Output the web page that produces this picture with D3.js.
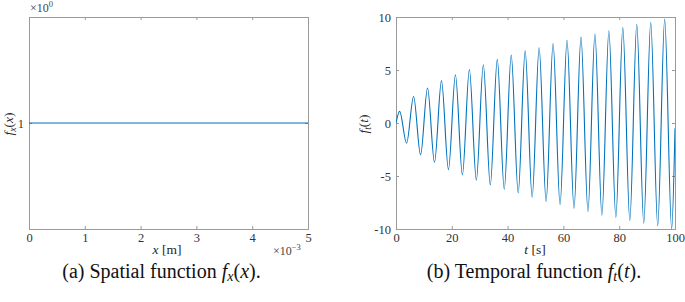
<!DOCTYPE html>
<html>
<head>
<meta charset="utf-8">
<script src="https://cdn.jsdelivr.net/npm/d3@7"></script>
<style>
  body { margin: 0; background: #fff; }
  svg text { font-family: "Liberation Serif", serif; fill: #262626; }
  .axis path, .axis line { stroke: #9a9a9a; }
  .axis text { font-size: 12.5px; fill: #333; font-family: "Liberation Serif", serif; }
</style>
</head>
<body>
<div id="chart"></div>
<script>
// spatial function (x in 1e-3 m, value in 1e0)
var xsSpatial = [0, 5];
var fxValues = [1, 1];
var xTicksA = [0, 1, 2, 3, 4, 5];
var yTicksA = [1];

// temporal function, extrema
var tPoints = [0, 1.3, 3.8, 6.3, 8.8, 11.3, 13.8, 16.3, 18.8, 21.3, 23.8, 26.3, 28.8, 31.3, 33.8,
  36.3, 38.8, 41.3, 43.8, 46.3, 48.8, 51.3, 53.8, 56.3, 58.8, 61.3, 63.8, 66.3, 68.8, 71.3,
  73.8, 76.3, 78.8, 81.3, 83.8, 86.3, 88.8, 91.3, 93.8, 96.3, 98.8, 100];
var ftValues = [0, 1.1, -1.9, 2.5, -3.0, 3.3, -3.7, 4.0, -4.4, 4.55, -4.9, 5.05, -5.4, 5.5, -5.85,
  6.0, -6.25, 6.4, -6.6, 6.8, -7.0, 7.1, -7.4, 7.5, -7.7, 7.8, -8.05, 8.1, -8.35, 8.4,
  -8.7, 8.7, -8.9, 9.0, -9.2, 9.3, -9.45, 9.5, -9.7, 9.8, -10.0, -0.5];
var xTicksB = [0, 20, 40, 60, 80, 100];
var yTicksB = [-10, -5, 0, 5, 10];

var W = 685, H = 302;
var lineColor = "#0072BD";

var svg = d3.select("#chart").append("svg")
  .attr("width", W)
  .attr("height", H);

// draws a matlab-ish boxed axes with inward ticks
function panel(left, right, top, bottom, xdom, ydom, xt, yt, id) {
  var x = d3.scaleLinear().domain(xdom).range([left, right]);
  var y = d3.scaleLinear().domain(ydom).range([bottom, top]);
  var fmt = function(d) { return String(d); };

  svg.append("g").attr("class", "axis")
    .attr("transform", "translate(0," + bottom + ")")
    .call(d3.axisBottom(x).tickValues(xt).tickSize(-3).tickPadding(4).tickFormat(fmt));
  svg.append("g").attr("class", "axis")
    .attr("transform", "translate(0," + top + ")")
    .call(d3.axisTop(x).tickValues(xt).tickSize(-3).tickFormat(""));
  svg.append("g").attr("class", "axis")
    .attr("transform", "translate(" + left + ",0)")
    .call(d3.axisLeft(y).tickValues(yt).tickSize(-3).tickPadding(5).tickFormat(fmt));
  svg.append("g").attr("class", "axis")
    .attr("transform", "translate(" + right + ",0)")
    .call(d3.axisRight(y).tickValues(yt).tickSize(-3).tickFormat(""));

  svg.selectAll(".axis").attr("font-family", null).attr("font-size", null);

  svg.append("clipPath").attr("id", id)
    .append("rect").attr("x", left).attr("y", top)
    .attr("width", right - left).attr("height", bottom - top);

  return {x: x, y: y};
}

// (a) spatial
var a = panel(29, 308, 17, 229, [0, 5], [0, 2], xTicksA, yTicksA, "clipA");
svg.append("path")
  .datum(xsSpatial.map(function(d, i) { return [d, fxValues[i]]; }))
  .attr("clip-path", "url(#clipA)")
  .attr("fill", "none")
  .attr("stroke", lineColor)
  .attr("stroke-width", 1.2)
  .attr("d", d3.line().x(function(d) { return a.x(d[0]); }).y(function(d) { return a.y(d[1]); }));

// (b) temporal
var b = panel(396, 675, 17, 229, [0, 100], [-10, 10], xTicksB, yTicksB, "clipB");
svg.append("path")
  .datum(tPoints.map(function(d, i) { return [d, ftValues[i]]; }))
  .attr("clip-path", "url(#clipB)")
  .attr("fill", "none")
  .attr("stroke", lineColor)
  .attr("stroke-width", 1.1)
  .attr("d", d3.line().curve(d3.curveMonotoneX)
    .x(function(d) { return b.x(d[0]); }).y(function(d) { return b.y(d[1]); }));

// exponent labels
function expo(xp, yp, e) {
  var t = svg.append("text").attr("x", xp).attr("y", yp).style("font-size", "12px").style("fill", "#444");
  t.append("tspan").text("\u00d710");
  t.append("tspan").attr("dy", -5).style("font-size", "8.5px").text(e);
}
expo(30, 12, "0");
expo(273, 255, "\u22123");

// axis labels
var xl = svg.append("text").attr("x", 167).attr("y", 254).attr("text-anchor", "middle").style("font-size", "13.5px");
xl.append("tspan").style("font-style", "italic").text("x");
xl.append("tspan").text(" [m]");

var tl = svg.append("text").attr("x", 535).attr("y", 254).attr("text-anchor", "middle").style("font-size", "13.5px");
tl.append("tspan").style("font-style", "italic").text("t");
tl.append("tspan").text(" [s]");

function ylab(xp, yp, sub, arg) {
  var t = svg.append("text")
    .attr("transform", "translate(" + xp + "," + yp + ") rotate(-90)")
    .attr("text-anchor", "middle").style("font-size", "13.5px");
  t.append("tspan").style("font-style", "italic").text("f");
  t.append("tspan").attr("dy", 3).style("font-size", "9.5px").style("font-style", "italic").text(sub);
  t.append("tspan").attr("dy", -3).text("(");
  t.append("tspan").style("font-style", "italic").text(arg);
  t.append("tspan").text(")");
}
ylab(13, 124, "x", "x");
ylab(368, 124, "t", "t");

// captions, sized to the width they take in the reference
function caption(xp, w, pre, sub, arg) {
  var t = svg.append("text").attr("x", xp).attr("y", 278).attr("text-anchor", "middle").style("font-size", "18px").style("fill", "#111");
  t.append("tspan").text(pre);
  t.append("tspan").style("font-style", "italic").text("f");
  t.append("tspan").attr("class", "sub").attr("dy", 3).style("font-size", "12.5px").style("font-style", "italic").text(sub);
  t.append("tspan").attr("dy", -3).text("(");
  t.append("tspan").style("font-style", "italic").text(arg);
  t.append("tspan").text(").");
  var len = t.node().getComputedTextLength();
  var fs = Math.min(20, 18 * w / len);
  t.style("font-size", fs + "px");
  t.select(".sub").style("font-size", (fs * 0.7) + "px");
}
caption(161.5, 257, "(a) Spatial function ", "x", "x");
caption(534, 252, "(b) Temporal function ", "t", "t");
</script>
</body>
</html>
